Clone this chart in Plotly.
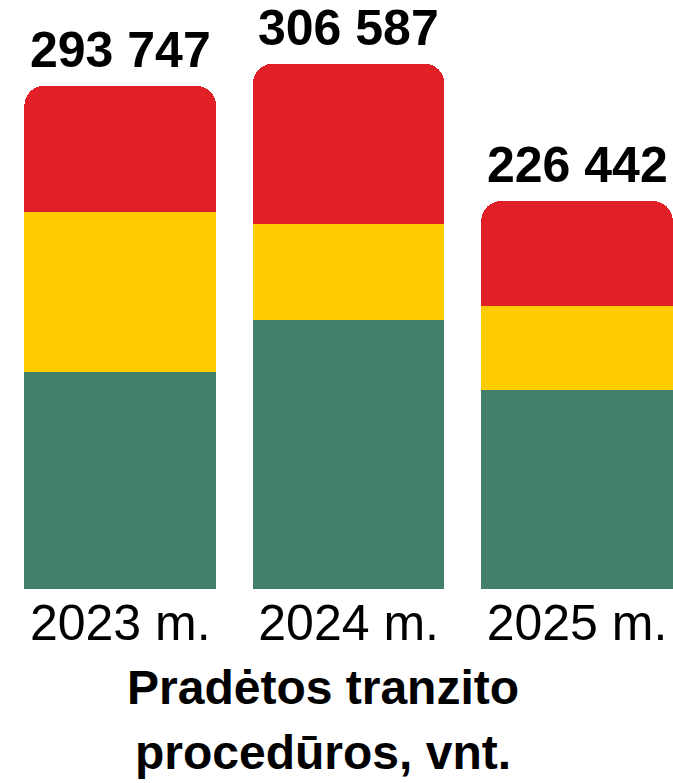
import plotly.graph_objects as go

categories = ["2023 m.", "2024 m.", "2025 m."]
green_vals = [126400, 156800, 116300]
yellow_vals = [93400, 56000, 48800]
red_vals = [73947, 93787, 61342]
totals = [g + y + r for g, y, r in zip(green_vals, yellow_vals, red_vals)]
total_labels = [f"{t:,}".replace(",", " ") for t in totals]
title_lines = ["Pradėtos tranzito", "procedūros, vnt."]

FONT = "Liberation Sans, Arial, sans-serif"

fig = go.Figure()
fig.add_trace(go.Bar(x=categories, y=green_vals, marker=dict(color="#43806C", line_width=0)))
fig.add_trace(go.Bar(x=categories, y=yellow_vals, marker=dict(color="#FFCC00", line_width=0)))
fig.add_trace(go.Bar(x=categories, y=red_vals, marker=dict(color="#E11F26", line_width=0)))

for c, t, lab in zip(categories, totals, total_labels):
    fig.add_annotation(x=c, y=t, text=f"<b>{lab}</b>", showarrow=False,
                       yanchor="bottom", yshift=6,
                       font=dict(family=FONT, size=50, color="#000000"))

for i, line in enumerate(title_lines):
    fig.add_annotation(x=0.48, y=0, xref="paper", yref="paper", text=f"<b>{line}</b>",
                       showarrow=False, yanchor="top", yshift=-70 - 65 * i, align="center",
                       font=dict(family=FONT, size=48, color="#000000"))

fig.update_layout(
    width=673, height=783,
    margin=dict(l=0, r=0, t=0, b=194, pad=0),
    barmode="stack", barcornerradius=20, bargap=0.161,
    showlegend=False,
    paper_bgcolor="#FFFFFF", plot_bgcolor="#FFFFFF",
    xaxis=dict(range=[-0.5263, 2.4203], showgrid=False, zeroline=False, showline=False,
               ticks="", tickfont=dict(family=FONT, size=50, color="#000000")),
    yaxis=dict(range=[0, 343740], visible=False),
)

fig.write_html("out.html", config={"displayModeBar": False},
               post_script="document.body.style.margin='0';document.body.style.overflow='hidden';")
